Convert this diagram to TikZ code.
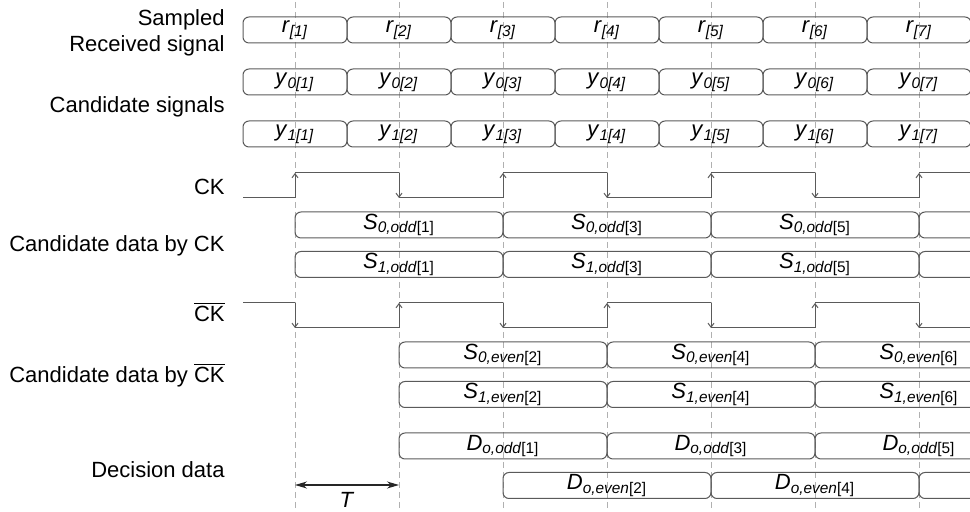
\documentclass[tikz,border=0pt]{standalone}
\usepackage{fontspec}
\setmainfont{Liberation Sans}
\usetikzlibrary{arrows.meta}

\definecolor{edge}{HTML}{5A5A5A}
\definecolor{grid}{HTML}{B0B0B0}

\newcommand{\sig}[2]{\textit{#1}\textsubscript{#2}}
\newcommand{\ckbar}{$\overline{\mbox{CK}}$}

\begin{document}
\begin{tikzpicture}[
    x=0.5pt, y=-0.5pt,
    font=\fontsize{11}{13}\selectfont,
    >={Straight Barb[length=2pt,width=3pt]},
    slot/.style={draw=edge, line width=0.5pt, rounded corners=3pt,
                 minimum width=52pt, minimum height=13pt, inner sep=0pt},
    wideslot/.style={slot, minimum width=104pt},
    lbl/.style={anchor=base east, align=right, inner sep=0pt},
    clk/.style={draw=edge, line width=0.5pt},
    tick/.style={draw=grid, dash pattern=on 3pt off 2pt, line width=0.4pt},
]
    \path[use as bounding box] (0,0) rectangle (970,512);
    \clip (0,0) rectangle (970,512);

    % sample instants
    \foreach \k in {1,...,7}
        \draw[tick] (191+104*\k,2) -- (191+104*\k,512);

    % row labels (base of the last line)
    \node[lbl] (rxlbl) at (225,52) {Sampled\\Received signal};
    \node[lbl] (ylbl) at (225,113) {Candidate signals};
    \node[lbl] (cklbl) at (225,195) {CK};
    \node[lbl] (soddlbl) at (225,252) {Candidate data by CK};
    \node[lbl] (cknlbl) at (225,322) {\ckbar};
    \node[lbl] (sevenlbl) at (225,383) {Candidate data by \ckbar};
    \node[lbl] (declbl) at (225,478) {Decision data};

    % received and candidate samples
    \foreach \k in {1,...,7} {
        \node[slot] (r\k) at (191+104*\k,30) {\sig{r}{\textit{[\k]}}};
        \node[slot] (ya\k) at (191+104*\k,82) {\sig{y}{\textit{0[\k]}}};
        \node[slot] (yb\k) at (191+104*\k,134) {\sig{y}{\textit{1[\k]}}};
    }

    % CK and its inverse
    \draw[clk] (243,198) -- (295,198);
    \draw[clk] (243,303) -- (295,303);
    \foreach \k in {1,...,7} {
        \pgfmathsetmacro\x{191+104*\k}
        \ifodd\k
            \draw[clk,->] (\x,198) -- (\x,173);
            \draw[clk] (\x,173) -- (\x+104,173);
            \draw[clk,->] (\x,303) -- (\x,328);
            \draw[clk] (\x,328) -- (\x+104,328);
        \else
            \draw[clk,->] (\x,173) -- (\x,198);
            \draw[clk] (\x,198) -- (\x+104,198);
            \draw[clk,->] (\x,328) -- (\x,303);
            \draw[clk] (\x,303) -- (\x+104,303);
        \fi
    }

    % latched by CK
    \foreach \j/\n in {0/1, 1/3, 2/5} {
        \node[wideslot] (sa\n) at (399+208*\j,225) {\sig{S}{\textit{0,odd}[\n]}};
        \node[wideslot] (sb\n) at (399+208*\j,264.5) {\sig{S}{\textit{1,odd}[\n]}};
    }
    \node[wideslot] (sa7) at (1023,225) {};
    \node[wideslot] (sb7) at (1023,264.5) {};

    % latched by inverted CK
    \foreach \j/\n in {0/2, 1/4, 2/6} {
        \node[wideslot] (sa\n) at (503+208*\j,355) {\sig{S}{\textit{0,even}[\n]}};
        \node[wideslot] (sb\n) at (503+208*\j,394.5) {\sig{S}{\textit{1,even}[\n]}};
    }

    % decisions
    \foreach \j/\n in {0/1, 1/3, 2/5}
        \node[wideslot] (dodd\n) at (503+208*\j,446) {\sig{D}{\textit{o,odd}[\n]}};
    \foreach \j/\n in {0/2, 1/4}
        \node[wideslot] (deven\n) at (607+208*\j,485.5) {\sig{D}{\textit{o,even}[\n]}};
    \node[wideslot] (deven6) at (1023,485.5) {};

    % period
    \coordinate (tl) at (295,485);
    \coordinate (tr) at (399,485);
    \draw[{Stealth[length=6pt,width=3.5pt]}-{Stealth[length=6pt,width=3.5pt]},
          draw=black!85, line width=0.6pt] (tl) -- (tr);
    \node (tlbl) at (347,500) {\textit{T}};
\end{tikzpicture}
\end{document}
